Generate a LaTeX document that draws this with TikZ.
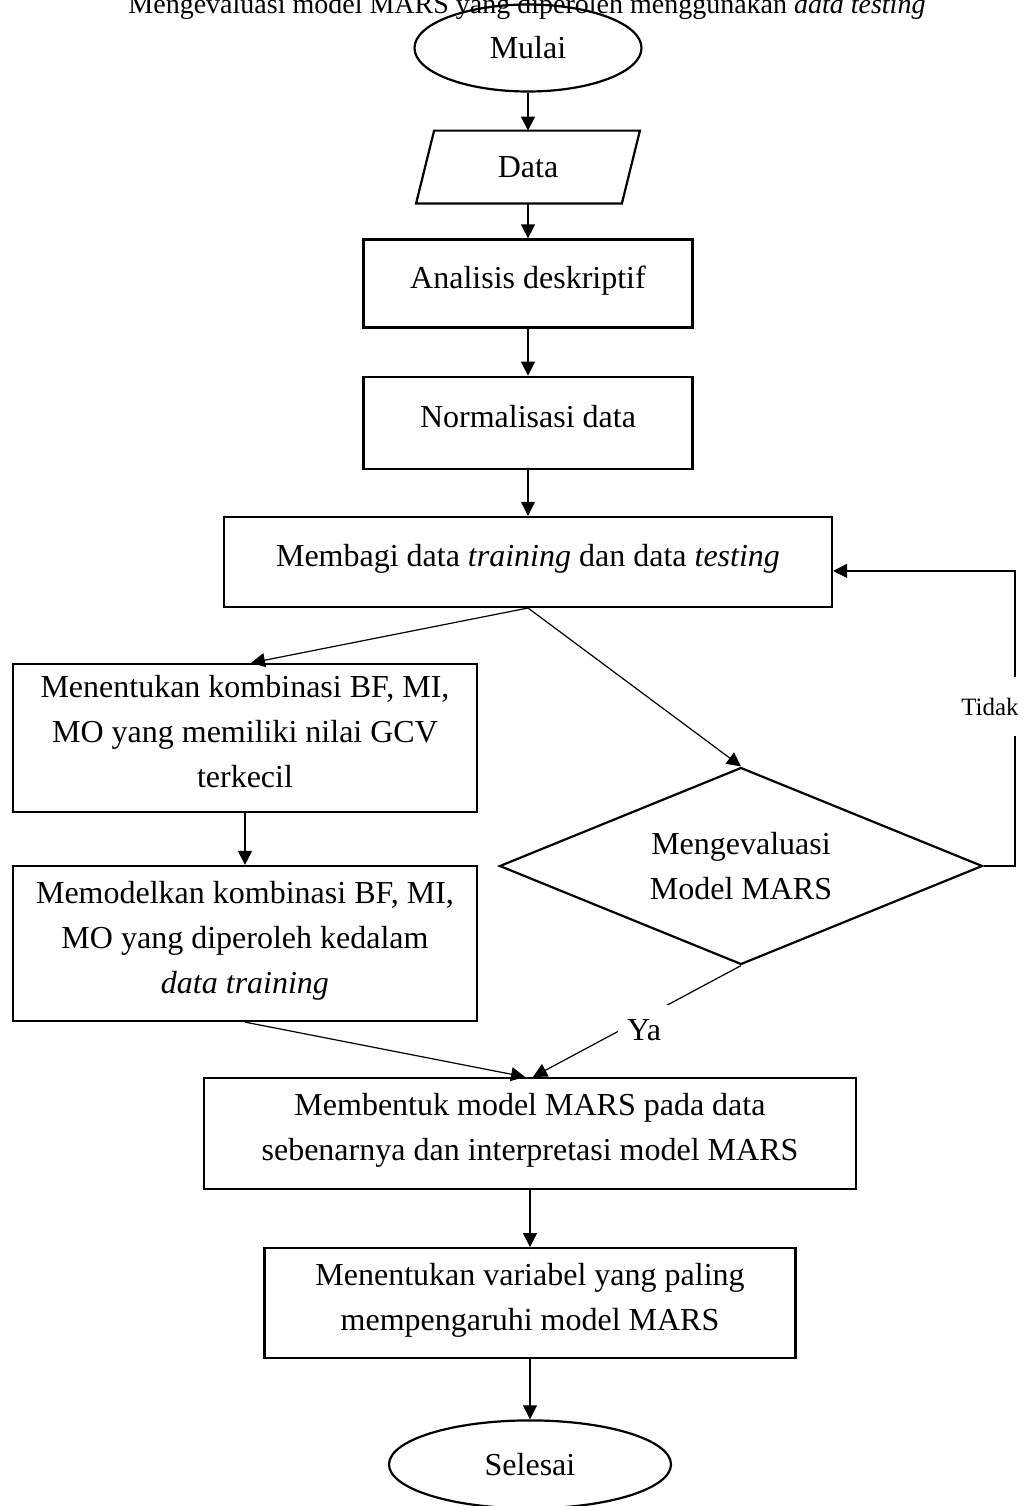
\documentclass[tikz,border=0pt]{standalone}
\usepackage{fontspec}
\setmainfont{Liberation Serif}
\usetikzlibrary{positioning,shapes.geometric,arrows.meta}
\tikzset{terminal/.style={ellipse,draw,line width=1.1pt,inner sep=0pt},
            io node/.style={rectangle,inner sep=0pt},
            proses/.style={rectangle,draw,line width=1.1pt,align=center,inner sep=0pt,text depth=6.5pt},
            keputusan/.style={diamond,draw,line width=1.1pt,align=center,inner sep=0pt,shape aspect=2.4},
            panah/.style={-{Triangle[length=7pt,width=7pt]},line width=0.6pt},
            label box/.style={fill=white,inner sep=0pt},
            }

\begin{document}
\begin{tikzpicture}[x=0.5pt,y=-0.5pt,font=\fontsize{16}{22.5}\selectfont]
    \useasboundingbox (0,0) rectangle (1025,1506);
    \clip (0,0) rectangle (1025,1506);

    \node (judul) [anchor=base,font=\fontsize{14}{17}\selectfont] at (527,13) {Mengevaluasi model MARS yang diperoleh menggunakan \textit{data testing}};

    \node[terminal, minimum width=113.5pt, minimum height=43.5pt] (mulai) at (528,48) {Mulai};
    \node[io node, minimum width=102.5pt, minimum height=36pt] (data) [below=19pt of mulai] {Data};
    \draw[line width=1.1pt] ([xshift=-4.5pt]data.south west) -- ([xshift=4.5pt]data.north west)
        -- ([xshift=4.5pt]data.north east) -- ([xshift=-4.5pt]data.south east) -- cycle;
    \node[proses, minimum width=164.5pt, minimum height=44pt] (analisis) [below=17.5pt of data] {Analisis deskriptif};
    \node[proses, minimum width=164.5pt, minimum height=46pt] (normal) [below=23.5pt of analisis] {Normalisasi data};
    \node[proses, minimum width=304pt, minimum height=45pt] (bagi) [below=23pt of normal] {Membagi data \textit{training} dan data \textit{testing}};

    \node[proses, minimum width=232pt, minimum height=74pt] (kombinasi) at (245,738) {Menentukan kombinasi BF, MI,\\ MO yang memiliki nilai GCV\\ terkecil};
    \node[proses, minimum width=232pt, minimum height=77.5pt] (modelkan) at (245,943.5) {Memodelkan kombinasi BF, MI,\\ MO yang diperoleh kedalam\\ \textit{data training}};
    \node[keputusan, minimum width=241.5pt, minimum height=98.5pt] (evaluasi) at (741,866) {Mengevaluasi\\ Model MARS};

    \node[proses, minimum width=326pt, minimum height=55.5pt] (bentuk) at (530,1133.5) {Membentuk model MARS pada data\\ sebenarnya dan interpretasi model MARS};
    \node[proses, minimum width=265.5pt, minimum height=55pt] (variabel) [below=28.5pt of bentuk] {Menentukan variabel yang paling\\ mempengaruhi model MARS};
    \node[terminal, minimum width=141pt, minimum height=44pt] (selesai) [below=30pt of variabel] {Selesai};

    \coordinate (belok) at (1015,866);

    \draw[panah] (mulai) -- (data);
    \draw[panah] (data) -- (analisis);
    \draw[panah] (analisis) -- (normal);
    \draw[panah] (normal) -- (bagi);
    \draw[panah] (bagi.south) -- ([xshift=3pt]kombinasi.north);
    \draw[panah] (bagi.south) -- (evaluasi.north);
    \draw[panah] (kombinasi) -- (modelkan);
    \draw[panah] (modelkan.south) -- ([xshift=-2.5pt]bentuk.north);
    \draw[panah] (evaluasi.south) -- node[label box, pos=0.466, yshift=-6.5pt, minimum width=26pt, minimum height=25pt] {Ya} ([xshift=1.5pt]bentuk.north);
    \draw[panah] (evaluasi.east) -- (belok) |- node[label box, pos=0.27, xshift=-12.5pt, minimum width=32pt, minimum height=29.5pt, font=\fontsize{12.5}{15}\selectfont] {Tidak} ([yshift=-4.5pt]bagi.east);
    \draw[panah] (bentuk) -- (variabel);
    \draw[panah] (variabel) -- (selesai);

\end{tikzpicture}
\end{document}
